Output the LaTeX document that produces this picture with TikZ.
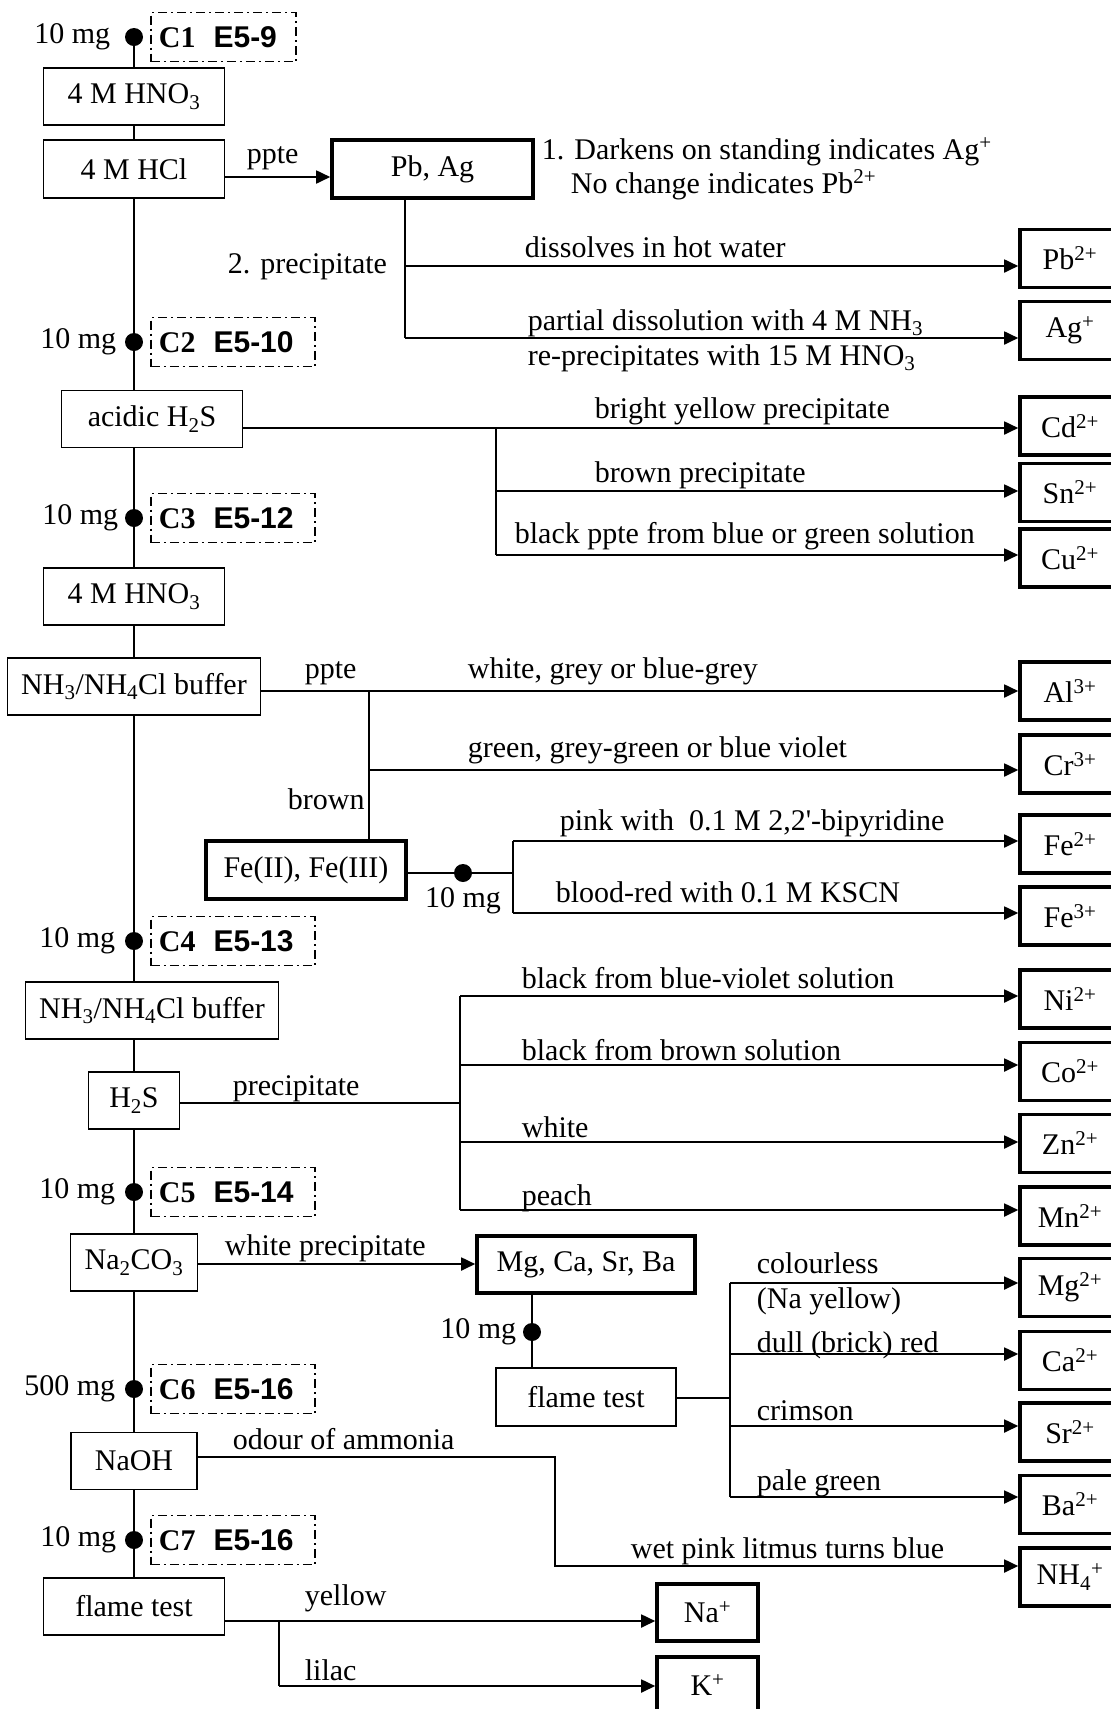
\documentclass[tikz,border=0pt]{standalone}
\usepackage{fontspec}
\setmainfont{Liberation Serif}
\setsansfont{Liberation Sans}
\usepackage{tikz}
\usetikzlibrary{arrows.meta, positioning}

\begin{document}
\begin{tikzpicture}
    [
        x=1pt, y=-1pt,
        line width=1.8pt,
        font=\fontsize{30}{36}\selectfont,
        stepbox/.style = {
            draw, line width=1.8pt, minimum height=57pt, inner sep=0pt
        },
        groupbox/.style = {
            draw, line width=3.6pt, minimum height=57pt, inner sep=0pt
        },
        ion/.style = {
            draw, line width=3.6pt, minimum width=100pt, minimum height=58pt, inner sep=0pt
        },
        sample/.style = {
            draw, line width=1.8pt, dash pattern=on 9pt off 4pt on 2pt off 4pt,
            minimum height=49pt, inner xsep=8pt, inner ysep=0pt,
            text width=148pt, align=left
        },
        dot/.style = {
            circle, fill, inner sep=0pt, outer sep=0pt, minimum size=18pt
        },
        mass/.style = {inner sep=0pt},
        lbl/.style = {anchor=base west, inner sep=0pt},
        arr/.style = {-{Triangle[length=14pt, width=13pt]}},
    ]
    \useasboundingbox (0,0) rectangle (1111,1709);
    \clip (0,0) rectangle (1111,1709);

    % main column
    \node[dot] (dot1) at (134,37) {};
    \node[sample, text width=129pt, right=7pt of dot1] (c1) {\textbf{C1}\hspace{0.6em}\textsf{\bfseries E5-9}};
    \node[mass, left=14pt of dot1] (m1) {10 mg};
    \node[stepbox, minimum width=181pt] (hno3a) at (134,96.5) {4 M HNO\textsubscript{3}};
    \node[stepbox, minimum width=181pt, minimum height=58pt] (hcl) at (134,169) {4 M HCl};
    \node[dot] (dot2) at (134,342) {};
    \node[sample, right=7pt of dot2] (c2) {\textbf{C2}\hspace{0.6em}\textsf{\bfseries E5-10}};
    \node[mass, left=8pt of dot2] (m2) {10 mg};
    \node[stepbox, minimum width=181pt] (acid) at (152,419) {acidic H\textsubscript{2}S};
    \node[dot] (dot3) at (134,518) {};
    \node[sample, right=7pt of dot3] (c3) {\textbf{C3}\hspace{0.6em}\textsf{\bfseries E5-12}};
    \node[mass, left=6pt of dot3] (m3) {10 mg};
    \node[stepbox, minimum width=181pt] (hno3b) at (134,596.5) {4 M HNO\textsubscript{3}};
    \node[stepbox, minimum width=253pt] (buf1) at (134,686.5) {NH\textsubscript{3}/NH\textsubscript{4}Cl buffer};
    \node[dot] (dot4) at (134,941) {};
    \node[sample, right=7pt of dot4] (c4) {\textbf{C4}\hspace{0.6em}\textsf{\bfseries E5-13}};
    \node[mass, left=9pt of dot4] (m4) {10 mg};
    \node[stepbox, minimum width=253pt] (buf2) at (152,1010.5) {NH\textsubscript{3}/NH\textsubscript{4}Cl buffer};
    \node[stepbox, minimum width=91pt] (h2s) at (134,1100.5) {H\textsubscript{2}S};
    \node[dot] (dot5) at (134,1192) {};
    \node[sample, right=7pt of dot5] (c5) {\textbf{C5}\hspace{0.6em}\textsf{\bfseries E5-14}};
    \node[mass, left=9pt of dot5] (m5) {10 mg};
    \node[stepbox, minimum width=127pt] (naco) at (134,1262.5) {Na\textsubscript{2}CO\textsubscript{3}};
    \node[dot] (dot6) at (134,1389) {};
    \node[sample, right=7pt of dot6] (c6) {\textbf{C6}\hspace{0.6em}\textsf{\bfseries E5-16}};
    \node[mass, left=9pt of dot6] (m6) {500 mg};
    \node[stepbox, minimum width=126pt] (naoh) at (134,1461) {NaOH};
    \node[dot] (dot7) at (134,1540) {};
    \node[sample, right=7pt of dot7] (c7) {\textbf{C7}\hspace{0.6em}\textsf{\bfseries E5-16}};
    \node[mass, left=8pt of dot7] (m7) {10 mg};
    \node[stepbox, minimum width=181pt] (flame1) at (134,1606.5) {flame test};

    % groups
    \node[groupbox, minimum width=201pt, minimum height=58pt] (pbag) at (432.5,169) {Pb, Ag};
    \node[groupbox, minimum width=200pt, minimum height=58pt] (feb) at (306,870) {Fe(II), Fe(III)};
    \node[dot] (fedot) at (463,873) {};
    \node[mass, below=5pt of fedot] (m8) {10 mg};
    \node[groupbox, minimum width=218pt] (mixb) at (586,1264.5) {Mg, Ca, Sr, Ba};
    \node[dot] (mixdot) at (532,1332) {};
    \node[mass, left=6pt of mixdot] (m9) {10 mg};
    \node[stepbox, minimum width=180pt, minimum height=58pt] (flame2) at (586,1397) {flame test};
    \node[groupbox, minimum width=101pt] (nab) at (707.5,1612.5) {Na\textsuperscript{+}};
    \node[groupbox, minimum width=101pt] (kb) at (707.5,1685.5) {K\textsuperscript{+}};

    % ions
    \node[ion] (pbion) at (1070,258.5) {Pb\textsuperscript{2+}};
    \node[ion] (agion) at (1070,330.5) {Ag\textsuperscript{+}};
    \node[ion] (cdion) at (1070,426) {Cd\textsuperscript{2+}};
    \node[ion] (snion) at (1070,492.5) {Sn\textsuperscript{2+}};
    \node[ion] (cuion) at (1070,558) {Cu\textsuperscript{2+}};
    \node[ion] (alion) at (1070,691) {Al\textsuperscript{3+}};
    \node[ion] (crion) at (1070,764) {Cr\textsuperscript{3+}};
    \node[ion] (fe2ion) at (1070,844) {Fe\textsuperscript{2+}};
    \node[ion] (fe3ion) at (1070,916) {Fe\textsuperscript{3+}};
    \node[ion] (niion) at (1070,999) {Ni\textsuperscript{2+}};
    \node[ion] (coion) at (1070,1071.5) {Co\textsuperscript{2+}};
    \node[ion] (znion) at (1070,1143.5) {Zn\textsuperscript{2+}};
    \node[ion] (mnion) at (1070,1216) {Mn\textsuperscript{2+}};
    \node[ion] (mgion) at (1070,1287.5) {Mg\textsuperscript{2+}};
    \node[ion] (caion) at (1070,1360.5) {Ca\textsuperscript{2+}};
    \node[ion] (srion) at (1070,1432) {Sr\textsuperscript{2+}};
    \node[ion] (baion) at (1070,1504.5) {Ba\textsuperscript{2+}};
    \node[ion] (nhion) at (1070,1577) {NH\textsubscript{4}\textsuperscript{+}};

    % labels
    \node[lbl] (tppte) at (246,163) {ppte};
    \node[lbl] (tnote1) at (541,159) {1. Darkens on standing indicates Ag\textsuperscript{+}};
    \node[lbl] (tnote2) at (570,193) {No change indicates Pb\textsuperscript{2+}};
    \node[lbl] (tprec) at (227,273) {2. precipitate};
    \node[lbl] (tpb) at (524,257) {dissolves in hot water};
    \node[lbl] (tag1) at (527,330) {partial dissolution with 4 M NH\textsubscript{3}};
    \node[lbl] (tag2) at (527,365) {re-precipitates with 15 M HNO\textsubscript{3}};
    \node[lbl] (tcd) at (594,418) {bright yellow precipitate};
    \node[lbl] (tsn) at (594,482) {brown precipitate};
    \node[lbl] (tcu) at (514,543) {black ppte from blue or green solution};
    \node[lbl] (tppte2) at (304,678) {ppte};
    \node[lbl] (tal) at (467,678) {white, grey or blue-grey};
    \node[lbl] (tcr) at (467,757) {green, grey-green or blue violet};
    \node[lbl] (tbrown) at (287,809) {brown};
    \node[lbl] (tfe2) at (559,830) {pink with~~0.1 M 2,2\textquotesingle-bipyridine};
    \node[lbl] (tfe3) at (555,902) {blood-red with 0.1 M KSCN};
    \node[lbl] (tprec2) at (232,1095) {precipitate};
    \node[lbl] (tni) at (521,988) {black from blue-violet solution};
    \node[lbl] (tco) at (521,1060) {black from brown solution};
    \node[lbl] (tzn) at (521,1137) {white};
    \node[lbl] (tmn) at (521,1205) {peach};
    \node[lbl] (twhite) at (224,1255) {white precipitate};
    \node[lbl] (tmg1) at (756,1273) {colourless};
    \node[lbl] (tmg2) at (756,1308) {(Na yellow)};
    \node[lbl] (tca) at (756,1352) {dull (brick) red};
    \node[lbl] (tsr) at (756,1420) {crimson};
    \node[lbl] (tba) at (756,1490) {pale green};
    \node[lbl] (todour) at (232,1449) {odour of ammonia};
    \node[lbl] (tnh) at (630,1558) {wet pink litmus turns blue};
    \node[lbl] (tna) at (304,1605) {yellow};
    \node[lbl] (tk) at (304,1680) {lilac};

    % spine
    \draw (dot1.center) -- (hno3a);
    \draw (hno3a) -- (hcl);
    \draw (hcl) -- (dot2) -- (dot2 |- acid.north);
    \draw (dot2 |- acid.south) -- (dot3) -- (hno3b);
    \draw (hno3b) -- (buf1);
    \draw (buf1) -- (dot4) -- (dot4 |- buf2.north);
    \draw (dot4 |- buf2.south) -- (h2s) -- (dot5) -- (naco) -- (dot6) -- (naoh) -- (dot7) -- (flame1);

    % Pb, Ag
    \coordinate (hclout) at ([yshift=-8pt]hcl.east);
    \draw[arr] (hclout) -- (hclout -| pbag.west);
    \coordinate (pbj) at (405,266);
    \coordinate (agj) at (405,338);
    \draw (pbj |- pbag.south) -- (agj);
    \draw[arr] (pbj) -- (pbj -| pbion.west);
    \draw[arr] (agj) -- (agj -| agion.west);

    % acidic H2S
    \coordinate (acidout) at ([yshift=-9pt]acid.east);
    \coordinate (snj) at (496,491);
    \coordinate (cuj) at (496,555);
    \draw[arr] (acidout) -- (acidout -| cdion.west);
    \draw (acidout -| snj) -- (cuj);
    \draw[arr] (snj) -- (snj -| snion.west);
    \draw[arr] (cuj) -- (cuj -| cuion.west);

    % buffer
    \coordinate (buf1out) at ([yshift=-4.5pt]buf1.east);
    \coordinate (crj) at (369,770);
    \draw[arr] (buf1out) -- (buf1out -| alion.west);
    \draw (buf1out -| crj) -- (crj |- feb.north);
    \draw[arr] (crj) -- (crj -| crion.west);
    \coordinate (feout) at ([yshift=-3pt]feb.east);
    \coordinate (fe2j) at (513,841);
    \coordinate (fe3j) at (513,913);
    \draw (feout) -- (feout -| fe2j);
    \draw (fe2j) -- (fe3j);
    \draw[arr] (fe2j) -- (fe2j -| fe2ion.west);
    \draw[arr] (fe3j) -- (fe3j -| fe3ion.west);

    % H2S
    \coordinate (h2sout) at ([yshift=-2.5pt]h2s.east);
    \coordinate (nij) at (460,996);
    \coordinate (coj) at (460,1065);
    \coordinate (znj) at (460,1142);
    \coordinate (mnj) at (460,1210);
    \draw (h2sout) -- (h2sout -| nij);
    \draw (nij) -- (mnj);
    \draw[arr] (nij) -- (nij -| niion.west);
    \draw[arr] (coj) -- (coj -| coion.west);
    \draw[arr] (znj) -- (znj -| znion.west);
    \draw[arr] (mnj) -- (mnj -| mnion.west);

    % Na2CO3
    \coordinate (nacoout) at ([yshift=-1.5pt]naco.east);
    \draw[arr] (nacoout) -- (nacoout -| mixb.west);
    \draw (mixb.south -| mixdot) -- (mixdot) -- (mixdot |- flame2.north);
    \coordinate (fl2out) at ([yshift=-1pt]flame2.east);
    \coordinate (mgj) at (730,1283);
    \coordinate (caj) at (730,1354);
    \coordinate (srj) at (730,1426);
    \coordinate (baj) at (730,1497);
    \draw (fl2out) -- (fl2out -| mgj);
    \draw (mgj) -- (baj);
    \draw[arr] (mgj) -- (mgj -| mgion.west);
    \draw[arr] (caj) -- (caj -| caion.west);
    \draw[arr] (srj) -- (srj -| srion.west);
    \draw[arr] (baj) -- (baj -| baion.west);

    % NaOH
    \coordinate (naohout) at ([yshift=4pt]naoh.east);
    \coordinate (nhj) at (555,1566);
    \draw[arr] (naohout) -| (nhj) -- (nhj -| nhion.west);

    % flame test
    \coordinate (fl1out) at ([yshift=-14.5pt]flame1.east);
    \coordinate (kj) at (279,1686);
    \draw[arr] (fl1out) -- (fl1out -| nab.west);
    \draw (fl1out -| kj) -- (kj);
    \draw[arr] (kj) -- (kj -| kb.west);
\end{tikzpicture}
\end{document}
